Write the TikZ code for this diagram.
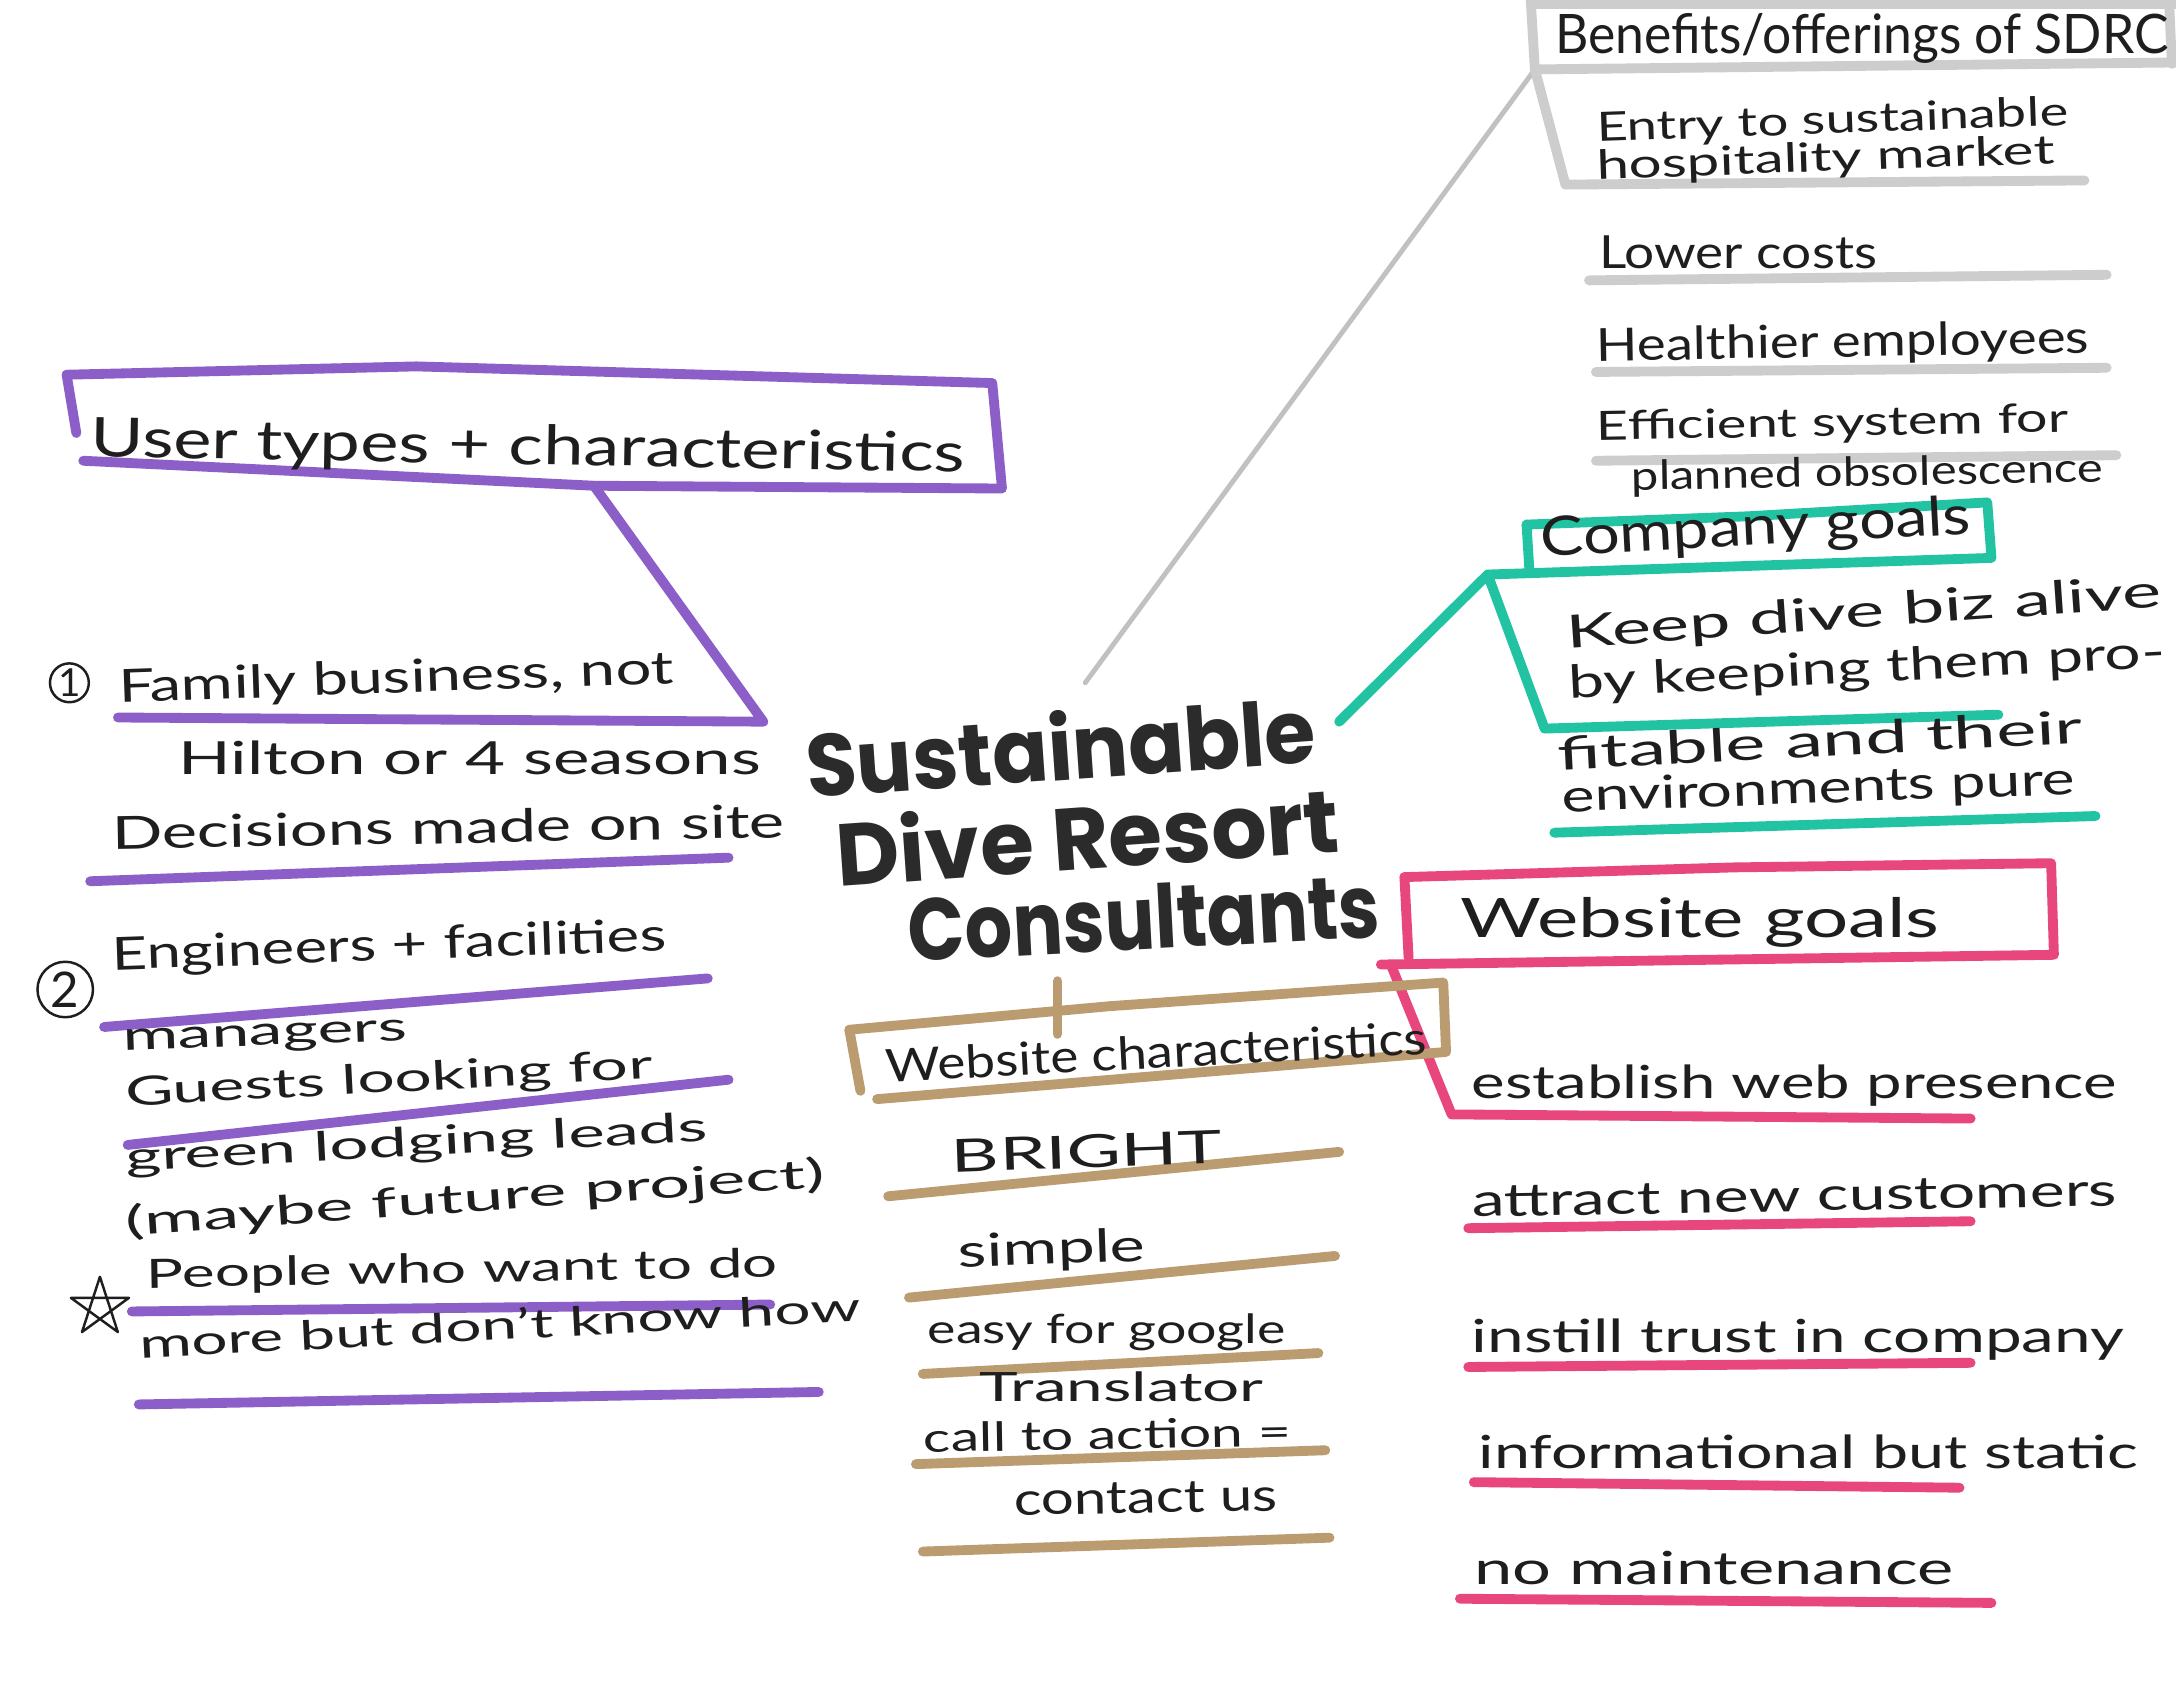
\documentclass[tikz,border=0pt]{standalone}
\usepackage{fontspec}
\usepackage{graphicx}
\setmainfont{Lato}
\newfontfamily\markerfont{Poppins}
% one drawing unit
\newlength\pxu
\setlength\pxu{0.013878cm}
% handwritten line stretched to a given width (in drawing units)
\newcommand\hw[2]{\resizebox{#1\pxu}{\height}{#2}}
\definecolor{ink}{HTML}{1E1E1E}
\definecolor{titleink}{HTML}{2B2B2B}
\definecolor{purp}{HTML}{8C5FC8}
\definecolor{tealm}{HTML}{22C3A2}
\definecolor{pinkm}{HTML}{E8477E}
\definecolor{tanm}{HTML}{BA9C70}
\definecolor{graym}{HTML}{CDCDCD}
\tikzset{
  hand/.style={font=\fontsize{13}{15}\selectfont, text=ink, inner sep=0pt, anchor=west},
  small/.style={hand, font=\fontsize{11.5}{13}\selectfont},
  head/.style={hand, font=\fontsize{15.5}{18}\selectfont},
  titletext/.style={font=\markerfont\bfseries\fontsize{25}{28}\selectfont, text=titleink, inner sep=0pt, anchor=west},
  marker/.style={line width=2.8pt, line cap=round, line join=round},
  pen/.style={draw=ink, line width=0.7pt, line cap=round, line join=round},
  numcircle/.style={pen, circle, inner sep=0pt, text=ink, font=\fontsize{11}{11}\selectfont},
}
\begin{document}
\begin{tikzpicture}[x=0.013878cm,y=-0.013878cm]
\useasboundingbox (0,0) rectangle (1568,1211);
\fill[white] (0,0) rectangle (1568,1211);

% ---------- central title ----------
\node[titletext, rotate=4] (t1) at (580,550) {\hw{368}{Sustainable}};
\node[titletext, rotate=4] (t2) at (602,614) {\hw{363}{Dive Resort}};
\node[titletext, rotate=3] (t3) at (654,670) {\hw{340}{Consultants}};

\coordinate (cgray) at (782,492);
\coordinate (cteal) at (965,520);
\coordinate (cpurp) at (550,520);
\coordinate (ctan)  at (762,707);
\coordinate (cpink) at (995,695);

% ---------- benefits (gray) ----------
\coordinate (bjoint) at (1106,50);
\draw[line width=1.4pt, graym!85!gray, line cap=round] (cgray) -- (bjoint);
\draw[marker, graym] (1103,3) -- (1568,3);
\draw[marker, graym] (1103,0) -- (bjoint) -- (1568,45);
\draw[marker, graym] (1563,0) -- (1565,46);
\draw[marker, graym] (bjoint) -- (1128,133) -- (1502,130);
\draw[marker, graym] (1145,202) -- (1518,198);
\draw[marker, graym] (1150,268) -- (1518,265);
\draw[marker, graym] (1150,332) -- (1525,328);

\node[head] (ben) at (1120,28) {\hw{442}{Benefits/offerings of SDRC}};
\node[small, rotate=2] (b1a) at (1150,94) {\hw{340}{Entry to sustainable}};
\node[small, rotate=2] (b1b) at (1150,121) {\hw{330}{hospitality market}};
\node[hand] (b2) at (1152,182) {\hw{200}{Lower costs}};
\node[hand, rotate=1] (b3) at (1150,251) {\hw{355}{Healthier employees}};
\node[small, rotate=1] (b4a) at (1150,309) {\hw{340}{Efficient system for}};
\node[small, rotate=1] (b4b) at (1175,345) {\hw{340}{planned obsolescence}};

% ---------- company goals (teal) ----------
\coordinate (tjoint) at (1072,414);
\draw[marker, tealm] (1100,378) -- (1260,372) -- (1432,362) -- (1435,402) -- (tjoint);
\draw[marker, tealm] (1100,378) -- (1102,410);
\draw[marker, tealm] (cteal) -- (tjoint) -- (1113,525) -- (1440,515);
\draw[marker, tealm] (1120,600) -- (1510,588);

\node[head, rotate=3] (cg) at (1110,390) {\hw{310}{Company goals}};
\node[hand, rotate=4] (k1) at (1128,458) {\hw{430}{Keep dive biz alive}};
\node[hand, rotate=3] (k2) at (1130,494) {\hw{430}{by keeping them pro-}};
\node[hand, rotate=3] (k3) at (1122,543) {\hw{378}{fitable and their}};
\node[hand, rotate=2] (k4) at (1125,576) {\hw{370}{environments pure}};

% ---------- website goals (pink) ----------
\draw[marker, pinkm] (1012,632) -- (1250,625) -- (1478,622) -- (1480,688) -- (cpink);
\draw[marker, pinkm] (1012,632) -- (1015,690);
\draw[marker, pinkm] (1003,697) -- (1046,803) -- (1420,806);
\draw[marker, pinkm] (1058,885) -- (1420,880);
\draw[marker, pinkm] (1058,985) -- (1420,982);
\draw[marker, pinkm] (1062,1068) -- (1412,1072);
\draw[marker, pinkm] (1052,1152) -- (1435,1155);

\node[head] (wg) at (1052,665) {\hw{345}{Website goals}};
\node[hand] (p1) at (1060,782) {\hw{465}{establish web presence}};
\node[hand, rotate=1] (p2) at (1060,866) {\hw{465}{attract new customers}};
\node[hand] (p3) at (1060,965) {\hw{470}{instill trust in company}};
\node[hand] (p4) at (1065,1046) {\hw{475}{informational but static}};
\node[hand] (p5) at (1062,1130) {\hw{345}{no maintenance}};

% ---------- website characteristics (tan) ----------
\draw[marker, tanm] (ctan) -- (762,745);
\draw[marker, tanm] (612,742) -- (800,725) -- (1040,708) -- (1042,758) -- (632,792);
\draw[marker, tanm] (612,742) -- (620,786);
\draw[marker, tanm] (640,862) -- (965,830);
\draw[marker, tanm] (655,935) -- (962,905);
\draw[marker, tanm] (665,990) -- (950,975);
\draw[marker, tanm] (660,1055) -- (955,1045);
\draw[marker, tanm] (665,1118) -- (958,1108);

\node[hand, rotate=3] (wc) at (638,768) {\hw{390}{Website characteristics}};
\node[hand, rotate=2] (c1) at (685,833) {\hw{195}{BRIGHT}};
\node[hand, rotate=2] (c2) at (690,904) {\hw{135}{simple}};
\node[small] (c3) at (668,960) {\hw{258}{easy for google}};
\node[small] (c4) at (705,999) {\hw{205}{Translator}};
\node[small, rotate=1] (c5) at (665,1036) {\hw{265}{call to action =}};
\node[hand, rotate=1] (c6) at (730,1081) {\hw{190}{contact us}};

% ---------- user types (purple) ----------
\coordinate (ujoint) at (428,350);
\draw[marker, purp] (48,270) -- (300,264) -- (715,276) -- (722,352) -- (ujoint) -- (60,332);
\draw[marker, purp] (48,270) -- (55,312);
\draw[marker, purp] (ujoint) -- (cpurp) -- (85,517);
\draw[marker, purp] (65,635) -- (525,618);
\draw[marker, purp] (75,740) -- (510,705);
\draw[marker, purp] (92,825) -- (525,778);
\draw[marker, purp] (95,945) -- (555,940);
\draw[marker, purp] (100,1012) -- (590,1003);

\node[head, rotate=-1] (ut) at (65,318) {\hw{630}{User types + characteristics}};
\node[numcircle, minimum size=28\pxu] (num1) at (50,492) {1};
\node[hand, rotate=2] (f1) at (85,497) {\hw{400}{Family business, not}};
\node[hand] (f2) at (128,546) {\hw{420}{Hilton or 4 seasons}};
\node[hand, rotate=1] (d1) at (80,600) {\hw{485}{Decisions made on site}};
\node[numcircle, minimum size=40\pxu, font=\fontsize{14}{14}\selectfont] (num2) at (47,713) {2};
\node[hand, rotate=2] (e1) at (80,690) {\hw{400}{Engineers + facilities}};
\node[small, rotate=2] (e2) at (88,752) {\hw{205}{managers}};
\node[small, rotate=3] (g1) at (90,789) {\hw{380}{Guests looking for}};
\node[small, rotate=3] (g2) at (90,836) {\hw{420}{green lodging leads}};
\node[small, rotate=4] (g3) at (90,882) {\hw{505}{(maybe future project)}};
\draw[pen] (72,920) -- (59.1,959.8) -- (92.9,935.2) -- (51.1,935.2) -- (84.9,959.8) -- cycle;
\node[small, rotate=1] (pe1) at (105,920) {\hw{455}{People who want to do}};
\node[small, rotate=3] (pe2) at (100,968) {\hw{520}{more but don't know how}};
\end{tikzpicture}
\end{document}
